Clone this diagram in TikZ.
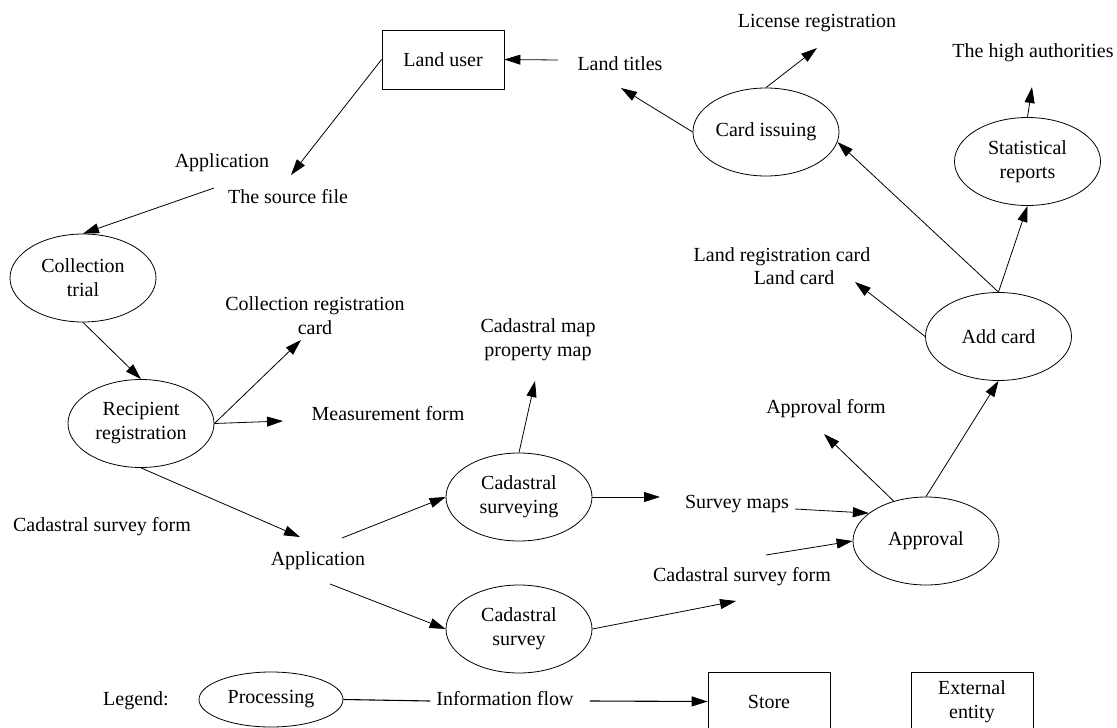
\documentclass[tikz,border=0pt]{standalone}
\usepackage{fontspec}
\setmainfont{Liberation Serif}
\usetikzlibrary{arrows.meta,shapes.geometric}
\begin{document}
\begin{tikzpicture}[x=1pt,y=-1pt,
  every node/.style={font=\fontsize{20}{24}\selectfont},
  proc/.style={draw, ellipse, minimum width=146pt, minimum height=88pt, inner sep=0pt, align=center, line width=0.8pt},
  ent/.style={draw, rectangle, minimum width=122pt, minimum height=59pt, inner sep=0pt, align=center, line width=0.8pt},
  lbl/.style={inner sep=0pt, text height=13pt, text depth=4pt},
  lbltwo/.style={inner sep=0pt, align=center},
  arr/.style={line width=0.8pt, -{Triangle[length=16pt,width=10pt]}},
]
\useasboundingbox (0,0) rectangle (1117,728);

% nodes
\node[ent] (lu) at (443,59.5) {Land user};
\node[lbl] (lt) at (620,66) {Land titles};
\node[lbl] (lr) at (817,23) {License registration};
\node[lbl] (ha) at (1033,53) {The high authorities};
\node[lbl] (apa) at (222,163) {Application};
\node[lbl] (sf) at (288,199) {The source file};
\node[proc] (ct) at (83,278) {Collection\\trial};
\node[proc] (ci) at (766,132) {Card issuing};
\node[proc] (sr) at (1027.5,161.5) {Statistical\\reports};
\node[lbl] (lrc) at (782,257) {Land registration card};
\node[lbl] (lc) at (794,280) {Land card};
\node[lbltwo] (crc) at (315,315.5) {Collection registration\\card};
\node[lbltwo] (cm) at (538,340) {Cadastral map\\property map};
\node[proc] (ac) at (998.5,336.5) {Add card};
\node[proc] (rr) at (141,423.5) {Recipient\\registration};
\node[lbl] (mf) at (388,416) {Measurement form};
\node[lbl] (af) at (826,409) {Approval form};
\node[proc] (csg) at (519,497) {Cadastral\\surveying};
\node[lbl] (sm) at (737,504) {Survey maps};
\node[lbl] (csfa) at (102,527) {Cadastral survey form};
\node[proc] (apv) at (926,541) {Approval};
\node[lbl] (apb) at (318,561) {Application};
\node[lbl] (csfb) at (742,577) {Cadastral survey form};
\node[proc] (cs) at (519,629) {Cadastral\\survey};

% legend
\node[lbl] (lg) at (136,701) {Legend:};
\node[proc, minimum height=55pt, minimum width=144pt] (pr) at (271,699.5) {Processing};
\node[lbl] (if) at (505,701) {Information flow};
\node[ent] (st) at (769,701.5) {Store};
\node[ent] (ee) at (972,701.5) {External\\entity};

% free ends
\coordinate (c1) at (558,60);
\coordinate (c2) at (291,175);
\coordinate (c3) at (214,188);
\coordinate (c4) at (301,340);
\coordinate (c5) at (283,421);
\coordinate (c6) at (300,537);
\coordinate (c7) at (342,538);
\coordinate (c8) at (330,584);
\coordinate (c9) at (535,381);
\coordinate (c10) at (660,497);
\coordinate (c11) at (736,601);
\coordinate (c12) at (795,509);
\coordinate (c13) at (766,555);
\coordinate (c14) at (824,434);
\coordinate (c15) at (855,282);
\coordinate (c16) at (1032,87);
\coordinate (c17) at (621,88);
\coordinate (c18) at (817,48);

% connectors
\draw[arr] (c1) -- (lu.east);
\draw[arr] (lu.west) -- (c2);
\draw[arr] (c3) -- (ct.north);
\draw[arr] (ct.south) -- (rr.north);
\draw[arr] (rr.east) -- (c4);
\draw[arr] (rr.east) -- (c5);
\draw[arr] (rr.south) -- (c6);
\draw[arr] (c7) -- (csg.west);
\draw[arr] (c8) -- (cs.west);
\draw[arr] (csg.north) -- (c9);
\draw[arr] (csg.east) -- (c10);
\draw[arr] (cs.east) -- (c11);
\draw[arr] (c12) -- (apv.154);
\draw[arr] (c13) -- (apv.west);
\draw[arr] (apv.129.5) -- (c14);
\draw[arr] (apv.north) -- (ac.south);
\draw[arr] (ac.west) -- (c15);
\draw[arr] (ac.north) -- (ci.-8);
\draw[arr] (ac.north) -- (sr.south);
\draw[arr] (sr.north) -- (c16);
\draw[arr] (ci.west) -- (c17);
\draw[arr] (ci.north) -- (c18);

% legend connectors
\draw[line width=1.1pt] (pr.east) -- ([xshift=-6pt]if.west);
\draw[arr, line width=1.1pt] ([xshift=16pt]if.east) -- (st.west);
\end{tikzpicture}
\end{document}
